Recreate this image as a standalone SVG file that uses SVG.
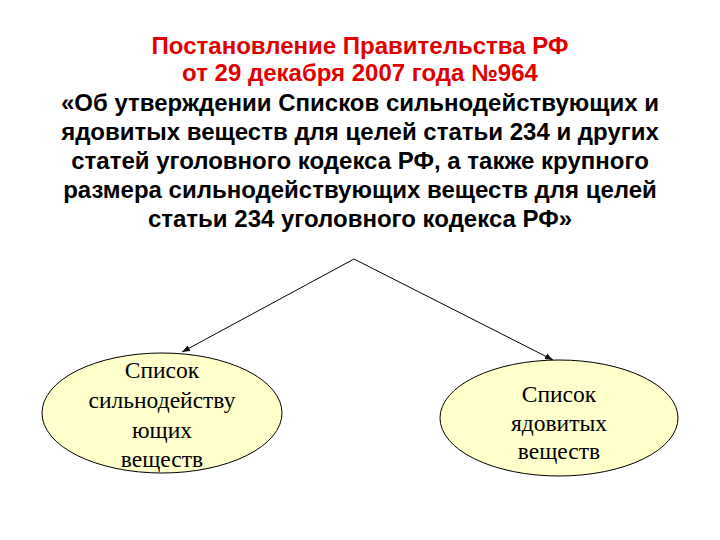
<svg xmlns="http://www.w3.org/2000/svg" width="720" height="540" viewBox="0 0 720 540">
<style>
.t{font-family:"Liberation Sans",Arial,sans-serif;font-weight:bold;font-size:24px;text-anchor:middle}
.red{fill:#e00000}
.blk{fill:#000}
.n{fill:#ffffcc;stroke:#000;stroke-width:1}
.nt{font-family:"Liberation Serif","Times New Roman",serif;font-size:23.5px;text-anchor:middle;fill:#000}
.c{stroke:#000;stroke-width:1;fill:none;marker-end:url(#ah)}
</style>
<defs>
<marker id="ah" markerWidth="8" markerHeight="6" refX="8" refY="3" orient="auto" markerUnits="userSpaceOnUse">
<path d="M0,0 L8,3 L0,6 z" fill="#000"/>
</marker>
</defs>
<rect width="720" height="540" fill="#fff"/>
<g id="title">
<text class="t red" x="360" y="54">Постановление Правительства РФ</text>
<text class="t red" x="360" y="81">от 29 декабря 2007 года №964</text>
<text class="t blk" x="360" y="111">«Об утверждении Списков сильнодействующих и</text>
<text class="t blk" x="360" y="140">ядовитых веществ для целей статьи 234 и других</text>
<text class="t blk" x="360" y="169">статей уголовного кодекса РФ, а также крупного</text>
<text class="t blk" x="360" y="198">размера сильнодействующих веществ для целей</text>
<text class="t blk" x="360" y="227">статьи 234 уголовного кодекса РФ»</text>
</g>
<g id="connectors">
<path class="c" d="M354,259 L182,352"/>
<path class="c" d="M354,259 L553,360"/>
</g>
<g id="node-left">
<ellipse class="n" cx="162" cy="413" rx="120" ry="60"/>
<text class="nt" x="162" y="378">Список</text>
<text class="nt" x="162" y="408">сильнодейству</text>
<text class="nt" x="162" y="438">ющих</text>
<text class="nt" x="162" y="467">веществ</text>
</g>
<g id="node-right">
<ellipse class="n" cx="559" cy="418" rx="119" ry="58"/>
<text class="nt" x="559" y="402">Список</text>
<text class="nt" x="559" y="431">ядовитых</text>
<text class="nt" x="559" y="459">веществ</text>
</g>
</svg>
